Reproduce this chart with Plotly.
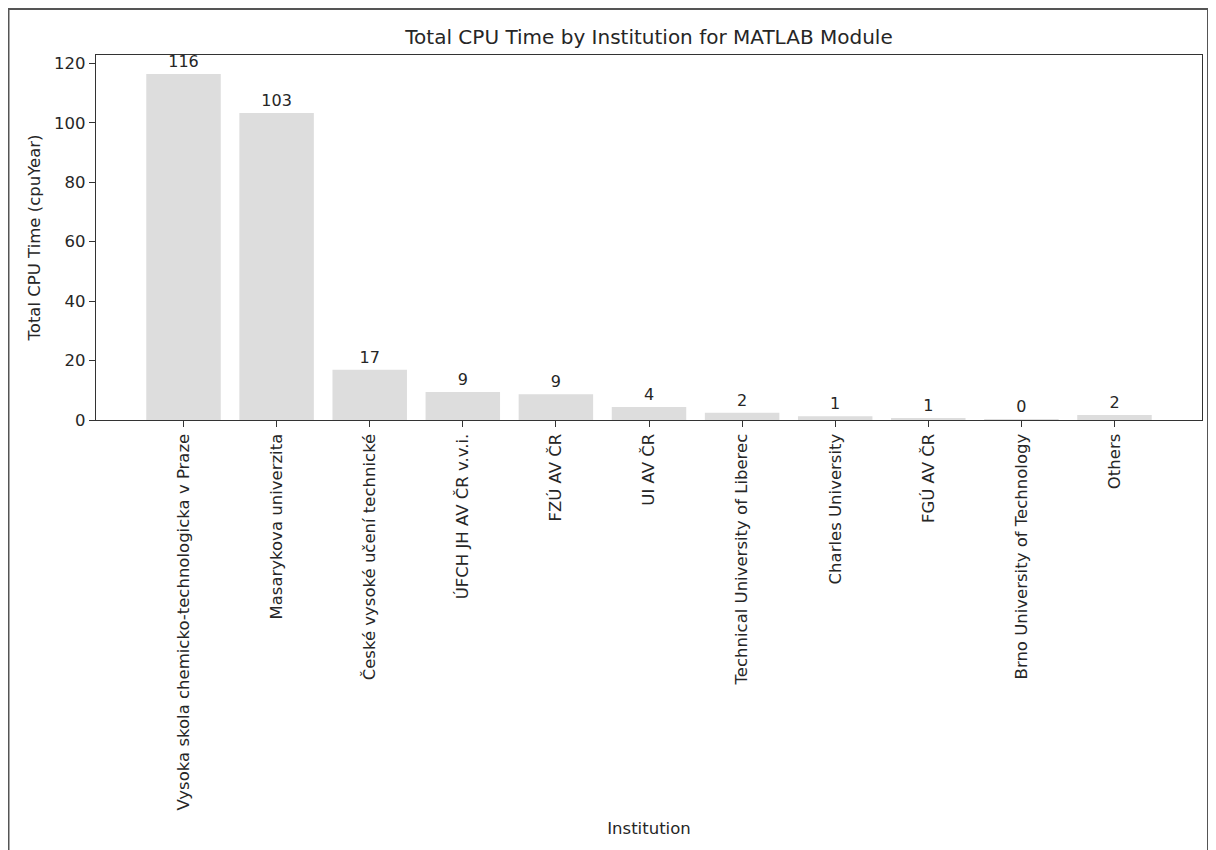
import plotly.graph_objects as go

institutions = [
    "Vysoka skola chemicko-technologicka v Praze",
    "Masarykova univerzita",
    "České vysoké učení technické",
    "ÚFCH JH AV ČR v.v.i.",
    "FZÚ AV ČR",
    "UI AV ČR",
    "Technical University of Liberec",
    "Charles University",
    "FGÚ AV ČR",
    "Brno University of Technology",
    "Others",
]
cpu_years = [116.4, 103.3, 16.9, 9.4, 8.7, 4.4, 2.4, 1.3, 0.6, 0.15, 1.7]
y_ticks = [0, 20, 40, 60, 80, 100, 120]

FONT = "DejaVu Sans"
TXT = "#262626"
# the page adds an 8px body margin, so the figure is drawn at (8, 8)
W, H = 1208, 842
L, R, T, B = 88, 14, 47, 430
pw, ph = W - L - R, H - T - B


def px_x(p):
    return (p - L) / pw


def px_y(p):
    return 1 - (p - T) / ph


fig = go.Figure(
    go.Bar(
        x=list(range(len(institutions))),
        y=cpu_years,
        width=0.8,
        marker=dict(color="#dddddd", line=dict(width=0)),
        text=[f"{v:.0f}" for v in cpu_years],
        textposition="outside",
        textfont=dict(family=FONT, size=16, color=TXT),
        cliponaxis=False,
    )
)

fig.update_layout(
    width=W,
    height=H,
    margin=dict(l=L, r=R, t=T, b=B),
    paper_bgcolor="white",
    plot_bgcolor="white",
    showlegend=False,
    font=dict(family=FONT, size=16, color=TXT),
    title=dict(
        text="Total CPU Time by Institution for MATLAB Module",
        x=0.5,
        xref="paper",
        xanchor="center",
        y=1 - 29 / H,
        yanchor="middle",
        font=dict(family=FONT, size=20, color=TXT),
    ),
    xaxis=dict(
        tickmode="array",
        tickvals=list(range(len(institutions))),
        ticktext=institutions,
        tickangle=-90,
        range=[-0.94, len(institutions) - 1 + 0.94],
        showgrid=False,
        zeroline=False,
        showline=True,
        linecolor="#333333",
        linewidth=1.3,
        mirror=True,
        ticks="outside",
        ticklen=6,
        tickcolor="#333333",
        tickfont=dict(family=FONT, size=16.5, color=TXT),
        title=dict(text="Institution", font=dict(family=FONT, size=16.5, color=TXT), standoff=12),
    ),
    yaxis=dict(
        range=[0, 122.8],
        tickmode="array",
        tickvals=y_ticks,
        showgrid=False,
        zeroline=False,
        showline=True,
        linecolor="#333333",
        linewidth=1.3,
        mirror=True,
        ticks="outside",
        ticklen=6,
        tickcolor="#333333",
        tickfont=dict(family=FONT, size=16.5, color=TXT),
        title=dict(text="Total CPU Time (cpuYear)", font=dict(family=FONT, size=16.5, color=TXT), standoff=9),
    ),
    shapes=[
        dict(
            type="rect",
            xref="paper",
            yref="paper",
            x0=px_x(0.5),
            x1=px_x(1200),
            y0=px_y(870),
            y1=px_y(1),
            line=dict(color="#555555", width=2),
            fillcolor="rgba(0,0,0,0)",
            layer="below",
        )
    ],
)

fig.write_html("out.html")
